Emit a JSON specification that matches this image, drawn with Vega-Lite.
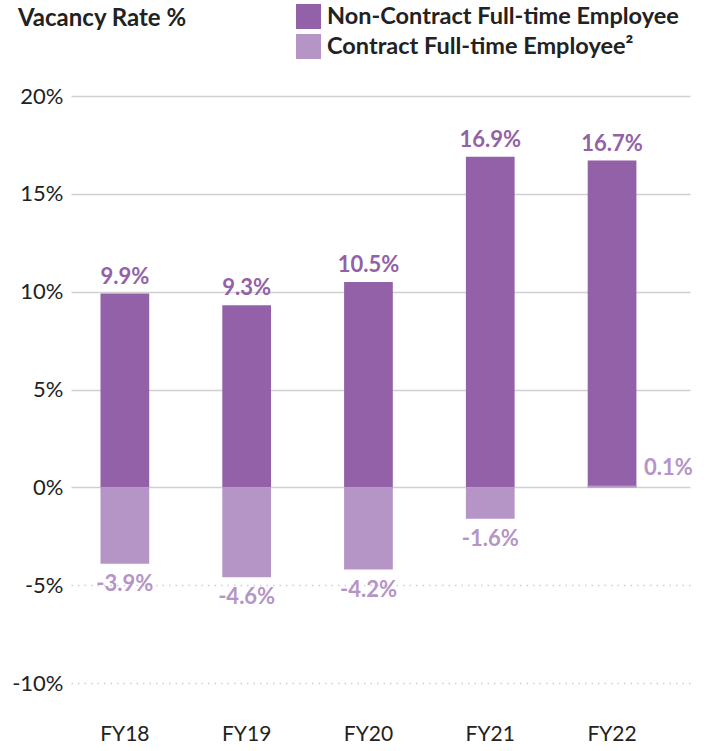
{
  "$schema": "https://vega.github.io/schema/vega-lite/v6.json",
  "width": 619,
  "height": 587,
  "autosize": "none",
  "padding": {"left": 71, "top": 96, "right": 22, "bottom": 68},
  "title": {"text": "Vacancy Rate %", "anchor": "start", "frame": "group", "dx": -53, "offset": -27, "fontSize": 24, "font": "Lato", "fontWeight": "bold", "color": "#222222"},
  "config": {"view": {"stroke": null}, "font": "Lato"},
  "data": {"values": [
    {"year": "FY18", "type": "Non-Contract Full-time Employee", "value": 9.9, "label": "9.9%"},
    {"year": "FY19", "type": "Non-Contract Full-time Employee", "value": 9.3, "label": "9.3%"},
    {"year": "FY20", "type": "Non-Contract Full-time Employee", "value": 10.5, "label": "10.5%"},
    {"year": "FY21", "type": "Non-Contract Full-time Employee", "value": 16.9, "label": "16.9%"},
    {"year": "FY22", "type": "Non-Contract Full-time Employee", "value": 16.7, "label": "16.7%"},
    {"year": "FY18", "type": "Contract Full-time Employee²", "value": -3.9, "label": "-3.9%"},
    {"year": "FY19", "type": "Contract Full-time Employee²", "value": -4.6, "label": "-4.6%"},
    {"year": "FY20", "type": "Contract Full-time Employee²", "value": -4.2, "label": "-4.2%"},
    {"year": "FY21", "type": "Contract Full-time Employee²", "value": -1.6, "label": "-1.6%"},
    {"year": "FY22", "type": "Contract Full-time Employee²", "value": 0.1, "label": "0.1%"}
  ]},
  "encoding": {
    "x": {"field": "year", "type": "nominal", "sort": null,
      "scale": {"paddingInner": 0.6, "paddingOuter": 0.341, "align": 0.355},
      "axis": {"title": null, "domain": false, "ticks": false, "labelAngle": 0, "labelPadding": 40, "labelFontSize": 21, "labelColor": "#222222", "labelFont": "Lato"}},
    "y": {"field": "value", "type": "quantitative", "stack": null,
      "scale": {"domain": [-10, 20], "nice": false, "zero": false},
      "axis": {"title": null, "domain": false, "ticks": false, "values": [-10, -5, 0, 5, 10, 15, 20], "labelExpr": "datum.value + '%'", "labelFontSize": 22, "labelColor": "#222222", "labelPadding": 8, "labelFont": "Lato", "gridColor": "#d0d0d0", "gridWidth": 1.5, "gridDash": {"condition": {"test": "datum.value < 0", "value": [1.5, 5]}, "value": []}}},
    "color": {"field": "type", "type": "nominal",
      "scale": {"domain": ["Non-Contract Full-time Employee", "Contract Full-time Employee²"], "range": ["#9361a8", "#b594c6"]}}
  },
  "layer": [
    {"mark": {"type": "bar"},
      "encoding": {"color": {"field": "type", "type": "nominal", "legend": {"title": null, "orient": "none", "legendX": 225, "legendY": -92, "symbolType": "square", "symbolSize": 625, "symbolStrokeWidth": 0, "symbolOpacity": 1, "labelFontSize": 23.5, "labelFontWeight": "bold", "labelColor": "#222222", "labelFont": "Lato", "labelLimit": 0, "rowPadding": 5, "labelOffset": 6}}}},
    {"transform": [{"filter": "datum.value > 0 && !(datum.year == 'FY22' && datum.value < 1)"}],
      "mark": {"type": "text", "baseline": "bottom", "dy": -5, "fontSize": 22, "fontWeight": "bold", "font": "Lato"},
      "encoding": {"text": {"field": "label", "type": "nominal"}, "color": {"field": "type", "type": "nominal", "legend": null}}},
    {"transform": [{"filter": "datum.value < 0"}],
      "mark": {"type": "text", "baseline": "top", "dy": 10, "fontSize": 22, "fontWeight": "bold", "font": "Lato"},
      "encoding": {"text": {"field": "label", "type": "nominal"}, "color": {"field": "type", "type": "nominal", "legend": null}}},
    {"transform": [{"filter": "datum.year == 'FY22' && datum.value < 1"}],
      "mark": {"type": "text", "baseline": "middle", "align": "left", "dx": 32, "dy": -17, "fontSize": 22, "fontWeight": "bold", "font": "Lato"},
      "encoding": {"text": {"field": "label", "type": "nominal"}, "color": {"field": "type", "type": "nominal", "legend": null}}}
  ]
}
